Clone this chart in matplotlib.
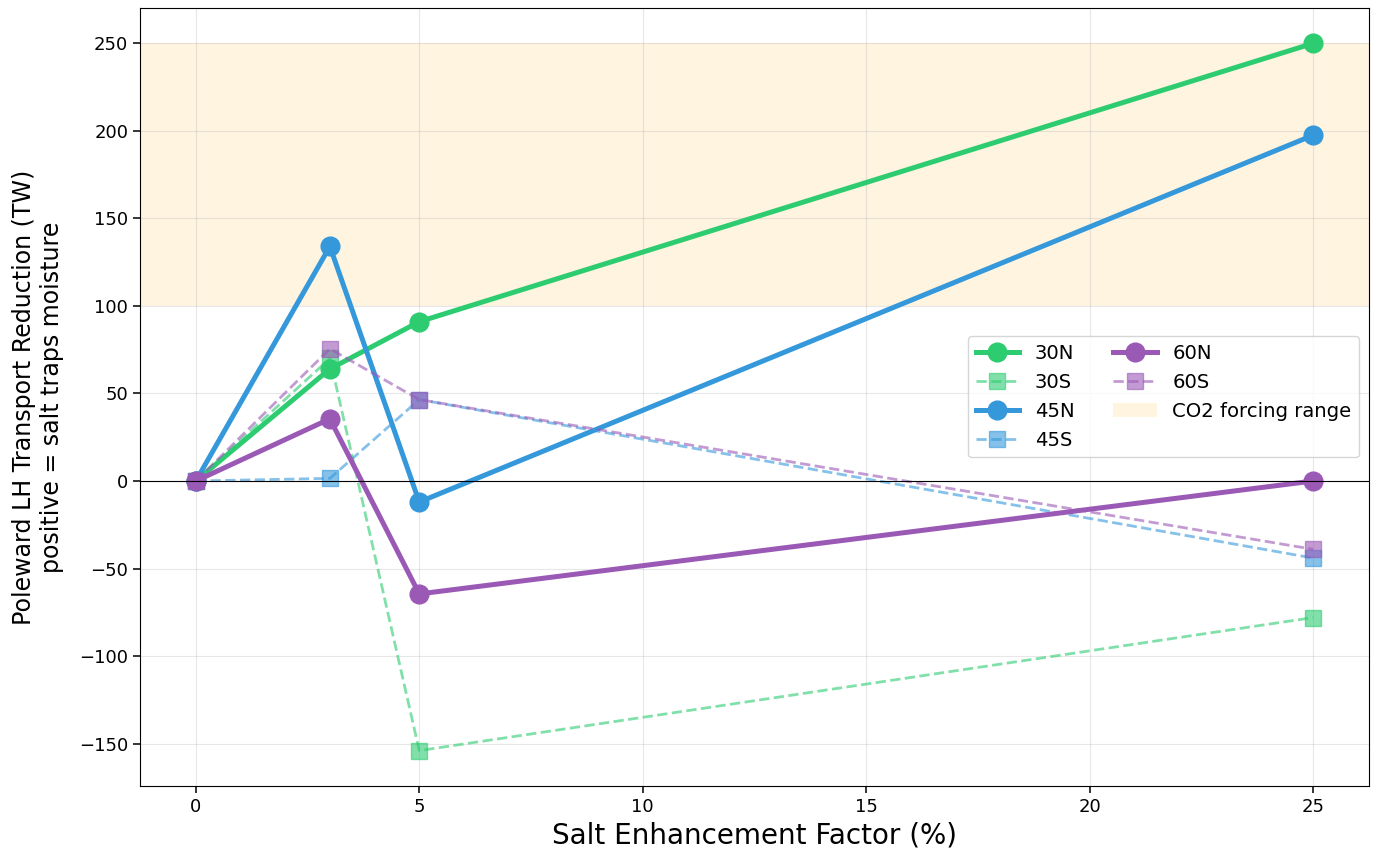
import matplotlib
matplotlib.use("Agg")
import matplotlib.pyplot as plt

# salt enhancement factors (%)
salt_pct = [0, 3, 5, 25]

# poleward LH transport reduction (TW) per latitude band
lat_30n = [0, 64, 91, 250]
lat_30s = [0, 70, -154, -78]
lat_45n = [0, 134, -12, 197.5]
lat_45s = [0, 1.5, 46.5, -44]
lat_60n = [0, 35.5, -64.5, 0]
lat_60s = [0, 75.5, 46.5, -39]

co2_range = (100, 250)

colors = {"30": "#2ecc71", "45": "#3498db", "60": "#9b59b6"}


def main():
    fig = plt.figure(figsize=(13.76, 8.56), dpi=100)
    ax = fig.add_axes([0.1017, 0.0818, 0.8932, 0.9089])

    series = [("30", lat_30n, lat_30s), ("45", lat_45n, lat_45s), ("60", lat_60n, lat_60s)]
    for lat, north, south in series:
        c = colors[lat]
        ax.plot(salt_pct, north, "-o", color=c, lw=3.6, ms=13.5, label=f"{lat}N")
        ax.plot(salt_pct, south, "--s", color=c, lw=2.0, ms=11, alpha=0.6, label=f"{lat}S")

    ax.axhspan(co2_range[0], co2_range[1], color="#fef4e0", lw=0,
               label="CO2 forcing range")
    ax.axhline(0, color="black", lw=0.8)

    ax.set_xlabel("Salt Enhancement Factor (%)", fontsize=20)
    ax.set_ylabel("Poleward LH Transport Reduction (TW)\npositive = salt traps moisture",
                  fontsize=17.1, labelpad=11)
    ax.tick_params(labelsize=13, length=5, width=1.1)
    ax.grid(True, alpha=0.3)
    ax.legend(loc="center right", ncol=2, fontsize=14.1, handlelength=2.2)

    fig.savefig("out.png", dpi=100)
    plt.close(fig)


if __name__ == "__main__":
    main()
